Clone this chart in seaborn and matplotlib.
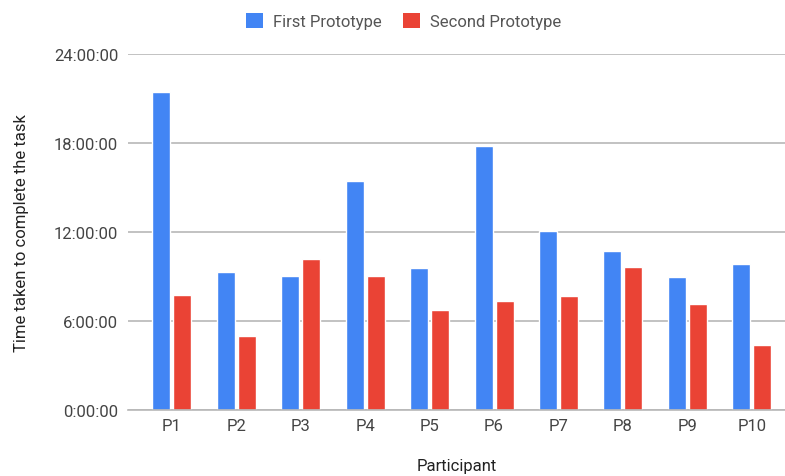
import matplotlib
matplotlib.use("Agg")
import matplotlib.pyplot as plt
import seaborn as sns
import pandas as pd
from matplotlib.ticker import FixedLocator, FuncFormatter
from matplotlib.patches import Patch

participants = ["P1", "P2", "P3", "P4", "P5", "P6", "P7", "P8", "P9", "P10"]
# task durations in hours
first_prototype = [21.42, 9.28, 9.06, 15.46, 9.55, 17.78, 12.07, 10.74, 8.99, 9.82]
second_prototype = [7.75, 4.97, 10.20, 9.06, 6.74, 7.37, 7.66, 9.66, 7.13, 4.40]
series_names = ["First Prototype", "Second Prototype"]
y_ticks = [0, 6, 12, 18, 24]

colors = ["#4285F4", "#EA4335"]

df = pd.DataFrame({
    "Participant": participants * 2,
    "Hours": first_prototype + second_prototype,
    "Series": [series_names[0]] * len(participants) + [series_names[1]] * len(participants),
})

sns.set_theme(style="white")
plt.rcParams["font.family"] = ["Roboto", "DejaVu Sans"]

fig = plt.figure(figsize=(7.85, 4.77), dpi=100)
ax = fig.add_axes([128 / 785, 1 - 411 / 477, 657 / 785, 356 / 477])

sns.barplot(data=df, x="Participant", y="Hours", hue="Series", palette=colors,
            width=0.65, gap=0.14, ax=ax, legend=False, saturation=1, errorbar=None)

# plot area is clipped on the right edge of the canvas
ax.set_xlim(-0.68, len(participants) - 1 + 0.515)
ax.set_ylim(0, 24)
ax.yaxis.set_major_locator(FixedLocator(y_ticks))
ax.yaxis.set_major_formatter(FuncFormatter(lambda v, p: f"{int(v)}:00:00"))
ax.grid(axis="y", color="#b7b7b7", linewidth=1.2)
ax.set_axisbelow(True)
for s in ["top", "right", "left"]:
    ax.spines[s].set_visible(False)
ax.spines["bottom"].set_color("#b7b7b7")
ax.spines["bottom"].set_linewidth(1.2)
ax.tick_params(axis="both", length=0, labelsize=12, colors="#444444")
ax.tick_params(axis="y", pad=7)
ax.tick_params(axis="x", pad=6)

ax.set_xlabel("Participant", fontsize=12, color="#222222", labelpad=18)
ax.set_ylabel("Time taken to complete the task", fontsize=12, color="#222222", labelpad=18)

handles = [Patch(facecolor=c, edgecolor="none") for c in colors]
fig.legend(handles, series_names, loc="center", bbox_to_anchor=(0.514, 1 - 22 / 477),
           ncol=2, frameon=False, fontsize=12, handlelength=1.0, handleheight=1.0,
           columnspacing=1.3, handletextpad=0.6, labelcolor="#555555")

fig.savefig("out.png", dpi=100)
